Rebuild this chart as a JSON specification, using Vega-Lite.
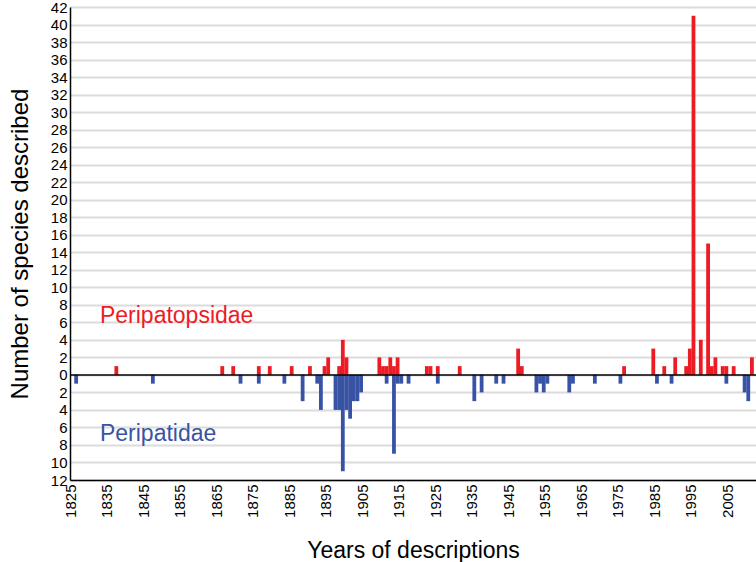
{
  "$schema": "https://vega.github.io/schema/vega-lite/v6.json",
  "width": 686,
  "height": 473,
  "autosize": "none",
  "padding": {"left": 70, "top": 7, "right": 0, "bottom": 82},
  "background": "white",
  "config": {
    "view": {"stroke": null},
    "font": "Liberation Sans",
    "axisX": {
      "labelAngle": -90,
      "labelAlign": "right",
      "labelBaseline": "middle",
      "labelFontSize": 15,
      "labelColor": "black",
      "labelPadding": 4,
      "labelFlush": false,
      "labelOverlap": false,
      "ticks": false,
      "grid": false,
      "domainColor": "black",
      "domainWidth": 1.5,
      "titleFontSize": 23,
      "titleFontWeight": "normal",
      "titleColor": "black",
      "titlePadding": 22
    },
    "axisY": {
      "labelFontSize": 15,
      "labelColor": "black",
      "labelPadding": 3,
      "labelFlush": false,
      "labelOverlap": false,
      "ticks": false,
      "grid": true,
      "gridColor": "#dcdcdc",
      "gridWidth": 2,
      "domainColor": "black",
      "domainWidth": 1.5,
      "titleFontSize": 24,
      "titleFontWeight": "normal",
      "titleColor": "black",
      "titlePadding": 18
    }
  },
  "datasets": {
    "bars": [
      {"year": 1826, "n": -1, "family": "Peripatidae"},
      {"year": 1847, "n": -1, "family": "Peripatidae"},
      {"year": 1871, "n": -1, "family": "Peripatidae"},
      {"year": 1876, "n": -1, "family": "Peripatidae"},
      {"year": 1883, "n": -1, "family": "Peripatidae"},
      {"year": 1888, "n": -3, "family": "Peripatidae"},
      {"year": 1892, "n": -1, "family": "Peripatidae"},
      {"year": 1893, "n": -4, "family": "Peripatidae"},
      {"year": 1897, "n": -4, "family": "Peripatidae"},
      {"year": 1898, "n": -4, "family": "Peripatidae"},
      {"year": 1899, "n": -11, "family": "Peripatidae"},
      {"year": 1900, "n": -4, "family": "Peripatidae"},
      {"year": 1901, "n": -5, "family": "Peripatidae"},
      {"year": 1902, "n": -3, "family": "Peripatidae"},
      {"year": 1903, "n": -3, "family": "Peripatidae"},
      {"year": 1904, "n": -2, "family": "Peripatidae"},
      {"year": 1911, "n": -1, "family": "Peripatidae"},
      {"year": 1913, "n": -9, "family": "Peripatidae"},
      {"year": 1914, "n": -1, "family": "Peripatidae"},
      {"year": 1915, "n": -1, "family": "Peripatidae"},
      {"year": 1917, "n": -1, "family": "Peripatidae"},
      {"year": 1925, "n": -1, "family": "Peripatidae"},
      {"year": 1935, "n": -3, "family": "Peripatidae"},
      {"year": 1937, "n": -2, "family": "Peripatidae"},
      {"year": 1941, "n": -1, "family": "Peripatidae"},
      {"year": 1943, "n": -1, "family": "Peripatidae"},
      {"year": 1952, "n": -2, "family": "Peripatidae"},
      {"year": 1953, "n": -1, "family": "Peripatidae"},
      {"year": 1954, "n": -2, "family": "Peripatidae"},
      {"year": 1955, "n": -1, "family": "Peripatidae"},
      {"year": 1961, "n": -2, "family": "Peripatidae"},
      {"year": 1962, "n": -1, "family": "Peripatidae"},
      {"year": 1968, "n": -1, "family": "Peripatidae"},
      {"year": 1975, "n": -1, "family": "Peripatidae"},
      {"year": 1985, "n": -1, "family": "Peripatidae"},
      {"year": 1989, "n": -1, "family": "Peripatidae"},
      {"year": 2004, "n": -1, "family": "Peripatidae"},
      {"year": 2009, "n": -2, "family": "Peripatidae"},
      {"year": 2010, "n": -3, "family": "Peripatidae"},
      {"year": 1837, "n": 1, "family": "Peripatopsidae"},
      {"year": 1866, "n": 1, "family": "Peripatopsidae"},
      {"year": 1869, "n": 1, "family": "Peripatopsidae"},
      {"year": 1876, "n": 1, "family": "Peripatopsidae"},
      {"year": 1879, "n": 1, "family": "Peripatopsidae"},
      {"year": 1885, "n": 1, "family": "Peripatopsidae"},
      {"year": 1890, "n": 1, "family": "Peripatopsidae"},
      {"year": 1894, "n": 1, "family": "Peripatopsidae"},
      {"year": 1895, "n": 2, "family": "Peripatopsidae"},
      {"year": 1898, "n": 1, "family": "Peripatopsidae"},
      {"year": 1899, "n": 4, "family": "Peripatopsidae"},
      {"year": 1900, "n": 2, "family": "Peripatopsidae"},
      {"year": 1909, "n": 2, "family": "Peripatopsidae"},
      {"year": 1910, "n": 1, "family": "Peripatopsidae"},
      {"year": 1911, "n": 1, "family": "Peripatopsidae"},
      {"year": 1912, "n": 2, "family": "Peripatopsidae"},
      {"year": 1913, "n": 1, "family": "Peripatopsidae"},
      {"year": 1914, "n": 2, "family": "Peripatopsidae"},
      {"year": 1922, "n": 1, "family": "Peripatopsidae"},
      {"year": 1923, "n": 1, "family": "Peripatopsidae"},
      {"year": 1925, "n": 1, "family": "Peripatopsidae"},
      {"year": 1931, "n": 1, "family": "Peripatopsidae"},
      {"year": 1947, "n": 3, "family": "Peripatopsidae"},
      {"year": 1948, "n": 1, "family": "Peripatopsidae"},
      {"year": 1976, "n": 1, "family": "Peripatopsidae"},
      {"year": 1984, "n": 3, "family": "Peripatopsidae"},
      {"year": 1987, "n": 1, "family": "Peripatopsidae"},
      {"year": 1990, "n": 2, "family": "Peripatopsidae"},
      {"year": 1993, "n": 1, "family": "Peripatopsidae"},
      {"year": 1994, "n": 3, "family": "Peripatopsidae"},
      {"year": 1995, "n": 41, "family": "Peripatopsidae"},
      {"year": 1997, "n": 4, "family": "Peripatopsidae"},
      {"year": 1999, "n": 15, "family": "Peripatopsidae"},
      {"year": 2000, "n": 1, "family": "Peripatopsidae"},
      {"year": 2001, "n": 2, "family": "Peripatopsidae"},
      {"year": 2003, "n": 1, "family": "Peripatopsidae"},
      {"year": 2004, "n": 1, "family": "Peripatopsidae"},
      {"year": 2006, "n": 1, "family": "Peripatopsidae"},
      {"year": 2011, "n": 2, "family": "Peripatopsidae"}
    ],
    "labels": [
      {"year": 1833.2, "n": 5.9, "family": "Peripatopsidae"},
      {"year": 1833.2, "n": -7.6, "family": "Peripatidae"}
    ]
  },
  "layer": [
    {
      "data": {"name": "bars"},
      "mark": {"type": "bar", "width": 3.8, "xOffset": 2.5},
      "encoding": {
        "x": {
          "field": "year",
          "type": "quantitative",
          "scale": {"domain": [1825, 2012.8], "nice": false, "zero": false, "padding": 0},
          "axis": {
            "values": [1825, 1835, 1845, 1855, 1865, 1875, 1885, 1895, 1905, 1915, 1925, 1935, 1945, 1955, 1965, 1975, 1985, 1995, 2005],
            "format": "d",
            "title": "Years of descriptions"
          }
        },
        "y": {
          "field": "n",
          "type": "quantitative",
          "scale": {"domain": [-12, 42], "nice": false, "zero": false},
          "axis": {
            "values": [-12, -10, -8, -6, -4, -2, 0, 2, 4, 6, 8, 10, 12, 14, 16, 18, 20, 22, 24, 26, 28, 30, 32, 34, 36, 38, 40, 42],
            "labelExpr": "abs(datum.value)",
            "title": "Number of species described"
          }
        },
        "color": {
          "field": "family",
          "type": "nominal",
          "scale": {"domain": ["Peripatopsidae", "Peripatidae"], "range": ["#ED1C24", "#3953A4"]},
          "legend": null
        }
      }
    },
    {
      "data": {"values": [{"base": 0}]},
      "mark": {"type": "rule", "color": "black", "strokeWidth": 1.5},
      "encoding": {
        "y": {
          "field": "base",
          "type": "quantitative",
          "axis": {
            "values": [-12, -10, -8, -6, -4, -2, 0, 2, 4, 6, 8, 10, 12, 14, 16, 18, 20, 22, 24, 26, 28, 30, 32, 34, 36, 38, 40, 42],
            "labelExpr": "abs(datum.value)",
            "title": "Number of species described"
          }
        }
      }
    },
    {
      "data": {"name": "labels"},
      "mark": {"type": "text", "align": "left", "baseline": "alphabetic", "fontSize": 23},
      "encoding": {
        "x": {
          "field": "year",
          "type": "quantitative",
          "axis": {
            "values": [1825, 1835, 1845, 1855, 1865, 1875, 1885, 1895, 1905, 1915, 1925, 1935, 1945, 1955, 1965, 1975, 1985, 1995, 2005],
            "format": "d",
            "title": "Years of descriptions"
          }
        },
        "y": {
          "field": "n",
          "type": "quantitative",
          "axis": {
            "values": [-12, -10, -8, -6, -4, -2, 0, 2, 4, 6, 8, 10, 12, 14, 16, 18, 20, 22, 24, 26, 28, 30, 32, 34, 36, 38, 40, 42],
            "labelExpr": "abs(datum.value)",
            "title": "Number of species described"
          }
        },
        "text": {"field": "family"},
        "color": {"field": "family", "type": "nominal", "legend": null}
      }
    }
  ]
}
